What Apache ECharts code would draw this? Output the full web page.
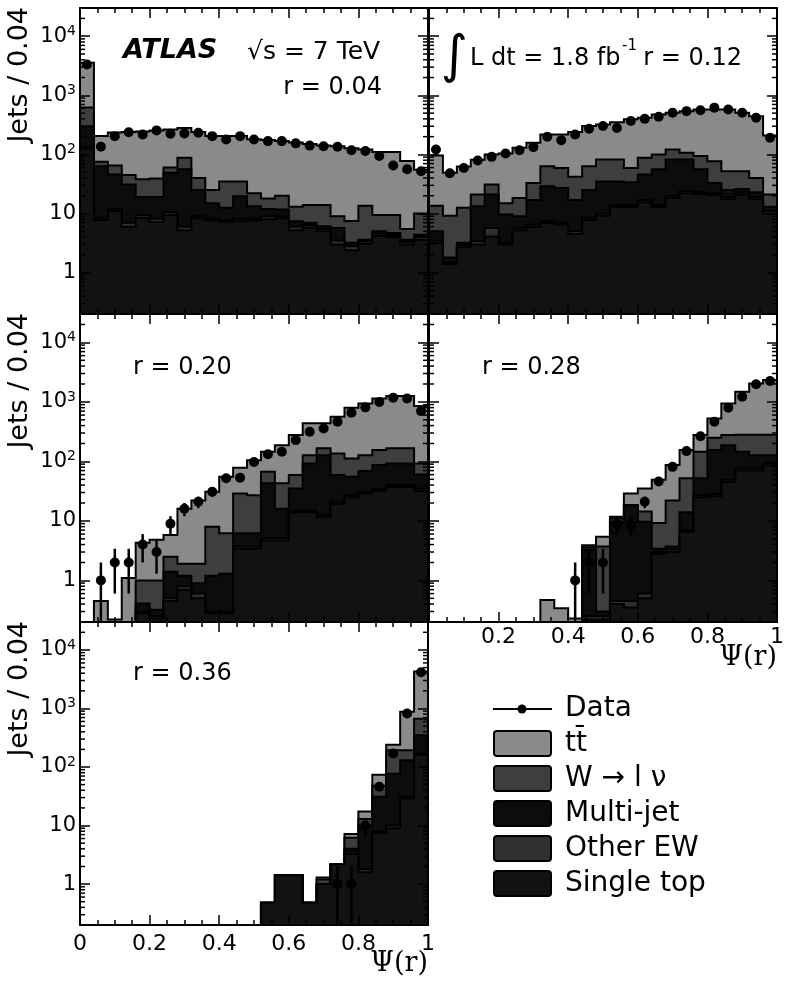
<!DOCTYPE html>
<html>
<head>
<meta charset="utf-8">
<title>ATLAS jet shapes Psi(r)</title>
<script src="https://cdn.jsdelivr.net/npm/echarts@6.0.0/dist/echarts.min.js"></script>
<style>
  html, body { margin: 0; padding: 0; background: #ffffff; }
  #chart { width: 789px; height: 988px; }
</style>
</head>
<body>
<div id="chart"></div>
<script>
// ---------------- data ----------------
const binEdges = [0, 0.04, 0.08, 0.12, 0.16, 0.2, 0.24, 0.28, 0.32, 0.36, 0.4, 0.44, 0.48,
  0.52, 0.56, 0.6, 0.64, 0.68, 0.72, 0.76, 0.8, 0.84, 0.88, 0.92, 0.96, 1.0];
const panelLabels = ['r = 0.04', 'r = 0.12', 'r = 0.20', 'r = 0.28', 'r = 0.36'];
const legendLabels = ['Data', 'tt\u0304', 'W \u2192 l \u03bd', 'Multi-jet', 'Other EW', 'Single top'];
const xAxisTitle = '\u03a8(r)';
const yAxisTitle = 'Jets / 0.04';

// r = 0.04
const data_r04 = [3330, 135, 204, 238, 218, 255, 224, 227, 233, 204, 179, 204, 179, 168, 168, 154, 141, 138, 135, 118, 114, 94, 65, 56, 52];
const err_r04  = [58, 11.6, 14.3, 15.4, 14.8, 16, 15, 15, 15.3, 14.3, 13.4, 14.3, 13.4, 13, 13, 12.4, 11.9, 11.7, 11.6, 10.9, 10.7, 9.7, 8.1, 7.5, 7.2];
const tt_r04   = [2940, 130, 170, 195, 207, 216, 205, 192, 200, 180, 170, 170, 158, 157, 148, 147, 136, 128, 129, 120, 108, 100, 100, 72, 45];
const wlv_r04  = [320, 12, 19, 14, 19, 20, 11, 32, 15, 10, 22.4, 15.3, 8.7, 6, 8.3, 5.6, 7, 7.9, 3.3, 4.3, 9.9, 4.5, 4.8, 1.9, 5.6];
const mj_r04   = [165, 54.5, 34, 24, 9.5, 10.8, 38.5, 50, 16, 6.8, 4.8, 11.5, 5.1, 3, 2.7, 1.4, 0.6, 0.6, 2.2, 0.4, 0.2, 0.4, 0.4, 0.3, 0.4];
const oew_r04  = [10, 0.7, 1, 1, 1, 1, 1, 0.8, 0.7, 0.6, 0.5, 0.8, 0.6, 1, 0.7, 0.8, 0.6, 0.5, 0.5, 0.4, 0.3, 0.4, 0.3, 0.3, 0.4];
const st_r04   = [125, 7.8, 11, 6, 8.5, 7.2, 9.5, 5.2, 8.3, 7.6, 7.3, 7.4, 7.6, 8, 8.3, 5.2, 5.8, 5, 3, 2.4, 3.1, 4.2, 4, 3, 3.6];

// r = 0.12
const data_r12 = [121, 48, 59, 79, 91, 104, 118, 133, 199, 174, 218, 272, 302, 280, 367, 400, 435, 508, 540, 560, 619, 575, 508, 417, 191];
const err_r12  = [11, 6.9, 7.7, 8.9, 9.5, 10.2, 10.9, 11.5, 14.1, 13.2, 14.8, 16.5, 17.4, 16.7, 19.2, 20, 20.9, 22.5, 23.2, 23.7, 24.9, 24, 22.5, 20.4, 13.8];
const tt_r12   = [82, 40, 50, 60, 69, 89, 112, 125, 155, 159, 198, 239, 240, 268, 333, 329, 376, 387, 433, 481, 498, 523, 456, 404, 189];
const wlv_r12  = [8.6, 7.4, 9.3, 7.7, 10, 5.4, 9.4, 16, 34, 32, 25, 38, 47, 47, 25, 42, 44, 39, 25, 38, 44, 27, 26, 17, 8];
const mj_r12   = [1.5, 0.3, 0.3, 9.9, 15.3, 6.4, 3.3, 10.5, 21.5, 20, 12, 16.5, 25, 21, 20, 29, 42, 62, 58, 33, 11, 6, 3, 4, 2];
const oew_r12  = [0.3, 0.1, 0.2, 0.4, 1.6, 0.2, 0.5, 0.5, 0.5, 0.5, 0.5, 0.7, 0.8, 1, 1, 1.5, 1, 1.5, 2, 1.5, 1.5, 1.5, 2, 1.5, 1];
const st_r12   = [3.2, 1.4, 2.7, 3, 4.1, 3, 5.2, 6, 7, 6.5, 4.5, 7.8, 9.2, 13, 13, 15.5, 13, 18.5, 22, 21.5, 20.5, 17.5, 21, 17.5, 10];

// r = 0.20
const data_r20 = [null, 1, 2, 2, 4, 3, 9, 16, 21, 31, 52, 53, 98, 132, 145, 228, 315, 357, 465, 657, 810, 1000, 1170, 1140, 700];
const err_r20  = [0, 1, 1.4, 1.4, 2, 1.7, 3, 4, 4.6, 5.6, 7.2, 7.3, 9.9, 11.5, 12, 15.1, 17.7, 18.9, 21.6, 25.6, 28.5, 31.6, 34.2, 33.8, 26.5];
const tt_r20   = [0, 0.45, 0.22, 1.1, 3.3, 3.8, 3.3, 14.1, 20.1, 23, 48.8, 49, 78, 78, 144, 218, 309, 270, 429, 688, 813, 985, 1094, 1094, 758];
const wlv_r20  = [0, 0, 0, 0, 0.59, 0.68, 1.1, 0.7, 1.0, 6.8, 4.9, 22.8, 20.8, 24, 27, 24, 35, 39, 77, 57, 58, 68, 74, 74, 32];
const mj_r20   = [0, 0, 0, 0, 0.11, 0.07, 0.9, 0.4, 0.3, 0.9, 1.0, 2.5, 2.5, 37.9, 10.9, 20, 77, 114.5, 38, 28, 38, 53, 52, 52, 25];
const oew_r20  = [0, 0, 0, 0, 0.02, 0.02, 0.05, 0.1, 0.1, 0.02, 0.02, 0.3, 0.3, 0.4, 0.4, 1, 1, 1, 1.5, 2, 2, 2, 3, 3, 3];
const st_r20   = [0, 0, 0, 0, 0.28, 0.23, 0.45, 0.7, 0.5, 0.28, 0.28, 3.4, 3.4, 4.7, 4.7, 14, 14, 11.5, 19.5, 25, 29, 32, 37, 37, 32];

// r = 0.28
const data_r28 = [null, null, null, null, null, null, null, null, null, null, 1, 2, 2, 9, 8.5, 21, 46, 81, 149, 265, 465, 800, 1220, 1980, 2250];
const err_r28  = [0, 0, 0, 0, 0, 0, 0, 0, 0, 0, 1, 1.4, 1.4, 3, 2.9, 4.6, 6.8, 9, 12.2, 16.3, 21.6, 28.3, 34.9, 44.5, 47.4];
const tt_r28   = [0, 0, 0, 0, 0, 0, 0, 0, 0.47, 0.34, 0.23, 0.3, 1.7, 0.7, 10.5, 20.6, 39.8, 65, 103, 132, 275, 663, 1200, 1760, 2050];
const wlv_r28  = [0, 0, 0, 0, 0, 0, 0, 0, 0, 0, 0, 0.3, 3.4, 1.3, 0.5, 4.7, 5.8, 18.3, 38, 93, 95, 90, 135, 153, 153];
const mj_r28   = [0, 0, 0, 0, 0, 0, 0, 0, 0, 0, 0, 3.05, 0.05, 9.25, 17.55, 9.1, 0.4, 0.4, 7, 25, 127, 138, 69, 51, 35];
const oew_r28  = [0, 0, 0, 0, 0, 0, 0, 0, 0, 0, 0, 0.03, 0.03, 0.05, 0.1, 0.1, 0.2, 0.3, 0.5, 2, 2, 4, 6, 6, 7];
const st_r28   = [0, 0, 0, 0, 0, 0, 0, 0, 0, 0, 0, 0.22, 0.22, 0.4, 0.35, 0.5, 2.8, 3.0, 6.5, 25, 26, 45, 70, 70, 85];

// r = 0.36
const data_r36 = [null, null, null, null, null, null, null, null, null, null, null, null, null, null, null, null, null, null, 1, 1, 10, 46, 170, 820, 4170];
const err_r36  = [0, 0, 0, 0, 0, 0, 0, 0, 0, 0, 0, 0, 0, 0, 0, 0, 0, 0, 1, 1, 3.2, 6.8, 13, 28.6, 64.6];
const tt_r36   = [0, 0, 0, 0, 0, 0, 0, 0, 0, 0, 0, 0, 0, 0, 0, 0, 0, 0.1, 0, 1.0, 4.4, 26, 47, 687, 3600];
const wlv_r36  = [0, 0, 0, 0, 0, 0, 0, 0, 0, 0, 0, 0, 0, 0, 0, 0, 0, 0.2, 0, 2.2, 3, 17, 116, 63, 320];
const mj_r36   = [0, 0, 0, 0, 0, 0, 0, 0, 0, 0, 0, 0, 0, 0, 0, 0, 0, 0, 0, 0.4, 8.2, 23, 67, 99, 180];
const oew_r36  = [0, 0, 0, 0, 0, 0, 0, 0, 0, 0, 0, 0, 0, 0, 0, 0, 0, 0, 0, 0.3, 0.2, 0.5, 1, 2, 10];
const st_r36   = [0, 0, 0, 0, 0, 0, 0, 0, 0, 0, 0, 0, 0, 0.48, 1.42, 1.42, 0.48, 1.0, 2.2, 3.3, 1.6, 7.5, 9, 29, 160];

// ---------------- styling / layout ----------------
const Y_MIN = 0.2, Y_MAX = 30000;
const FONT = 'DejaVu Sans';
const COL = { tt: '#8a8a8a', wlv: '#3e3e3e', mj: '#0c0c0c', oew: '#2f2f2f', st: '#121212' };

const grids = [
  { left: 80,  top: 8,   width: 348, height: 306 },
  { left: 429, top: 8,   width: 348, height: 306 },
  { left: 80,  top: 314, width: 348, height: 308 },
  { left: 429, top: 314, width: 348, height: 308 },
  { left: 80,  top: 622, width: 348, height: 303 }
];

const panels = [
  { tt: tt_r04, wlv: wlv_r04, mj: mj_r04, oew: oew_r04, st: st_r04, data: data_r04, err: err_r04, xLab: 'none', yLab: true },
  { tt: tt_r12, wlv: wlv_r12, mj: mj_r12, oew: oew_r12, st: st_r12, data: data_r12, err: err_r12, xLab: 'none', yLab: false },
  { tt: tt_r20, wlv: wlv_r20, mj: mj_r20, oew: oew_r20, st: st_r20, data: data_r20, err: err_r20, xLab: 'none', yLab: true },
  { tt: tt_r28, wlv: wlv_r28, mj: mj_r28, oew: oew_r28, st: st_r28, data: data_r28, err: err_r28, xLab: 'no0', yLab: false },
  { tt: tt_r36, wlv: wlv_r36, mj: mj_r36, oew: oew_r36, st: st_r36, data: data_r36, err: err_r36, xLab: 'all', yLab: true }
];

// ---------------- axes ----------------
const xAxes = [], yAxes = [];
panels.forEach((p, k) => {
  const tickStyle = { color: '#000', width: 1.5 };
  const xBase = {
    type: 'value', gridIndex: k, min: 0, max: 1, interval: 0.2, z: 10,
    axisLine: { show: true, onZero: false, lineStyle: { color: '#000', width: 2 } },
    axisTick: { show: true, inside: true, length: 10, lineStyle: tickStyle },
    minorTick: { show: true, splitNumber: 4, length: 5, lineStyle: tickStyle },
    splitLine: { show: false }, minorSplitLine: { show: false }
  };
  xAxes.push(Object.assign({}, xBase, {
    position: 'bottom',
    axisLabel: {
      show: p.xLab !== 'none', color: '#000', fontFamily: FONT, fontSize: 22,
      margin: p.xLab === 'no0' ? 4 : 8,
      formatter: v => (p.xLab === 'no0' && v === 0) ? '' : String(+(+v).toFixed(2))
    }
  }));
  xAxes.push(Object.assign({}, xBase, { position: 'top', axisLabel: { show: false } }));

  const yBase = {
    type: 'log', logBase: 10, gridIndex: k, min: Y_MIN, max: Y_MAX, z: 10,
    axisLine: { show: true, onZero: false, lineStyle: { color: '#000', width: 2 } },
    axisTick: { show: true, inside: true, length: 10, lineStyle: tickStyle },
    splitLine: { show: false }
  };
  yAxes.push(Object.assign({}, yBase, {
    position: 'left',
    axisLabel: {
      show: p.yLab, margin: 4,
      formatter: v => {
        const e = Math.log10(v);
        const n = Math.round(e);
        if (Math.abs(e - n) > 1e-6 || n < 0) return '';
        if (n === 0) return '{b|1}';
        if (n === 1) return '{b|10}';
        return '{b|10}{s|' + n + '}';
      },
      rich: {
        b: { fontFamily: FONT, fontSize: 21, lineHeight: 24, color: '#000' },
        s: { fontFamily: FONT, fontSize: 14, lineHeight: 12, verticalAlign: 'top', color: '#000' }
      }
    }
  }));
  yAxes.push(Object.assign({}, yBase, { position: 'right', axisLabel: { show: false } }));
});

// ---------------- series ----------------
function stepRender(levels, color) {
  return function (params, api) {
    const pts = [];
    const n = levels.length;
    pts.push(api.coord([binEdges[0], Y_MIN]));
    for (let i = 0; i < n; i++) {
      const v = Math.min(Math.max(levels[i], Y_MIN), Y_MAX);
      pts.push(api.coord([binEdges[i], v]));
      pts.push(api.coord([binEdges[i + 1], v]));
    }
    pts.push(api.coord([binEdges[n], Y_MIN]));
    return {
      type: 'polygon', shape: { points: pts },
      style: { fill: color, stroke: '#000', lineWidth: 2, lineJoin: 'miter' }
    };
  };
}

const minorVals = [];
for (let e = -1; e <= 4; e++) {
  for (let m = 2; m <= 9; m++) {
    const v = m * Math.pow(10, e);
    if (v > Y_MIN * 1.0001 && v < Y_MAX * 0.9999) minorVals.push(v);
  }
}
function minorTickRender(params, api) {
  const v = api.value(1);
  const l = api.coord([0, v]), r = api.coord([1, v]);
  return {
    type: 'group', children: [
      { type: 'line', shape: { x1: l[0], y1: l[1], x2: l[0] + 5, y2: l[1] }, style: { stroke: '#000', lineWidth: 1.5 } },
      { type: 'line', shape: { x1: r[0] - 5, y1: r[1], x2: r[0], y2: r[1] }, style: { stroke: '#000', lineWidth: 1.5 } }
    ]
  };
}
function errRender(params, api) {
  const x = api.value(0), v = api.value(1), e = api.value(2);
  if (!(e > 0)) return null;
  const lo = Math.max(v - e, Y_MIN), hi = Math.min(v + e, Y_MAX);
  const p1 = api.coord([x, lo]), p2 = api.coord([x, hi]);
  return { type: 'line', shape: { x1: p1[0], y1: p1[1], x2: p2[0], y2: p2[1] }, style: { stroke: '#000', lineWidth: 2.5 } };
}

const series = [];
panels.forEach((p, k) => {
  const layersBottomUp = [p.st, p.oew, p.mj, p.wlv, p.tt];
  const colorsBottomUp = [COL.st, COL.oew, COL.mj, COL.wlv, COL.tt];
  const names = ['Single top', 'Other EW', 'Multi-jet', 'W \u2192 l \u03bd', 'tt\u0304'];
  const cum = [];
  let run = binEdges.slice(1).map(() => 0);
  layersBottomUp.forEach(a => { run = run.map((r, i) => r + (a[i] || 0)); cum.push(run); });
  for (let j = 4; j >= 0; j--) {
    series.push({
      type: 'custom', name: names[j], xAxisIndex: 2 * k, yAxisIndex: 2 * k,
      z: 2 + (4 - j), silent: true, data: [[0.5, 1]], encode: { x: 0, y: 1 },
      renderItem: stepRender(cum[j], colorsBottomUp[j])
    });
  }
  series.push({
    type: 'custom', xAxisIndex: 2 * k, yAxisIndex: 2 * k, z: 9, silent: true,
    data: minorVals.map(v => [0.5, v]), encode: { x: 0, y: 1 }, renderItem: minorTickRender
  });
  const pts = [];
  p.data.forEach((v, i) => {
    if (v != null && v > 0) pts.push([(binEdges[i] + binEdges[i + 1]) / 2, v, p.err[i]]);
  });
  series.push({
    type: 'custom', name: 'Data', xAxisIndex: 2 * k, yAxisIndex: 2 * k, z: 11, silent: true,
    dimensions: ['x', 'y', 'err'], encode: { x: 0, y: 1 }, data: pts, renderItem: errRender
  });
  series.push({
    type: 'scatter', name: 'Data', xAxisIndex: 2 * k, yAxisIndex: 2 * k, z: 12, silent: true,
    symbol: 'circle', symbolSize: 10, itemStyle: { color: '#000', opacity: 1 },
    data: pts.map(q => [q[0], q[1]])
  });
});

// ---------------- text / legend ----------------
function txt(x, y, text, o) {
  o = o || {};
  const align = o.align || 'left', valign = o.valign || 'middle';
  return {
    type: 'text', x: x, y: y, rotation: o.rotation || 0, z: 100, silent: true,
    style: {
      text: text, fill: '#000', fontSize: o.size || 24, fontFamily: o.family || FONT,
      fontWeight: o.weight || 'normal', fontStyle: o.fstyle || 'normal',
      align: align, verticalAlign: valign, textAlign: align, textVerticalAlign: valign
    }
  };
}
const graphics = [];
[grids[0], grids[2], grids[4]].forEach(g => {
  graphics.push(txt(20, g.top - 1, yAxisTitle, { size: 27, rotation: Math.PI / 2, align: 'right' }));
});
graphics.push(txt(123, 51, 'ATLAS', { size: 27, weight: 'bold', fstyle: 'italic' }));
graphics.push(txt(247, 52, '\u221as = 7 TeV', { size: 25 }));
graphics.push(txt(382, 88, panelLabels[0], { size: 24, align: 'right' }));
graphics.push(txt(454, 58, '\u222b', { size: 52, align: 'center' }));
graphics.push(txt(470, 59, 'L dt = 1.8 fb', { size: 24 }));
graphics.push(txt(622, 46, '-1', { size: 15 }));
graphics.push(txt(742, 59, panelLabels[1], { size: 24, align: 'right' }));
graphics.push(txt(133, 368, panelLabels[2], { size: 24 }));
graphics.push(txt(482, 368, panelLabels[3], { size: 24 }));
graphics.push(txt(133, 674, panelLabels[4], { size: 24 }));
graphics.push(txt(777, 658, xAxisTitle, { size: 27, family: 'DejaVu Serif', align: 'right' }));
graphics.push(txt(428, 964, xAxisTitle, { size: 27, family: 'DejaVu Serif', align: 'right' }));

// legend
graphics.push({ type: 'line', z: 100, silent: true, shape: { x1: 493, y1: 709, x2: 552, y2: 709 }, style: { stroke: '#000', lineWidth: 2 } });
graphics.push({ type: 'circle', z: 101, silent: true, shape: { cx: 522, cy: 709, r: 4.5 }, style: { fill: '#000' } });
graphics.push(txt(565, 709, legendLabels[0], { size: 28 }));
const swatchColors = [COL.tt, COL.wlv, COL.mj, COL.oew, COL.st];
const swatchTops = [731, 766, 801, 836, 871];
swatchColors.forEach((c, i) => {
  graphics.push({
    type: 'rect', z: 100, silent: true,
    shape: { x: 494, y: swatchTops[i], width: 57, height: 25, r: 3 },
    style: { fill: c, stroke: '#000', lineWidth: 2 }
  });
  graphics.push(txt(565, swatchTops[i] + 13, legendLabels[i + 1], { size: 28 }));
});

const option = {
  animation: false,
  backgroundColor: '#ffffff',
  textStyle: { fontFamily: FONT },
  grid: grids.map(g => Object.assign({ containLabel: false, outerBoundsMode: 'none', show: false }, g)),
  xAxis: xAxes,
  yAxis: yAxes,
  series: series,
  graphic: { elements: graphics }
};

const chart = echarts.init(document.getElementById('chart'), null, { renderer: 'canvas' });
chart.setOption(option);
</script>
</body>
</html>
